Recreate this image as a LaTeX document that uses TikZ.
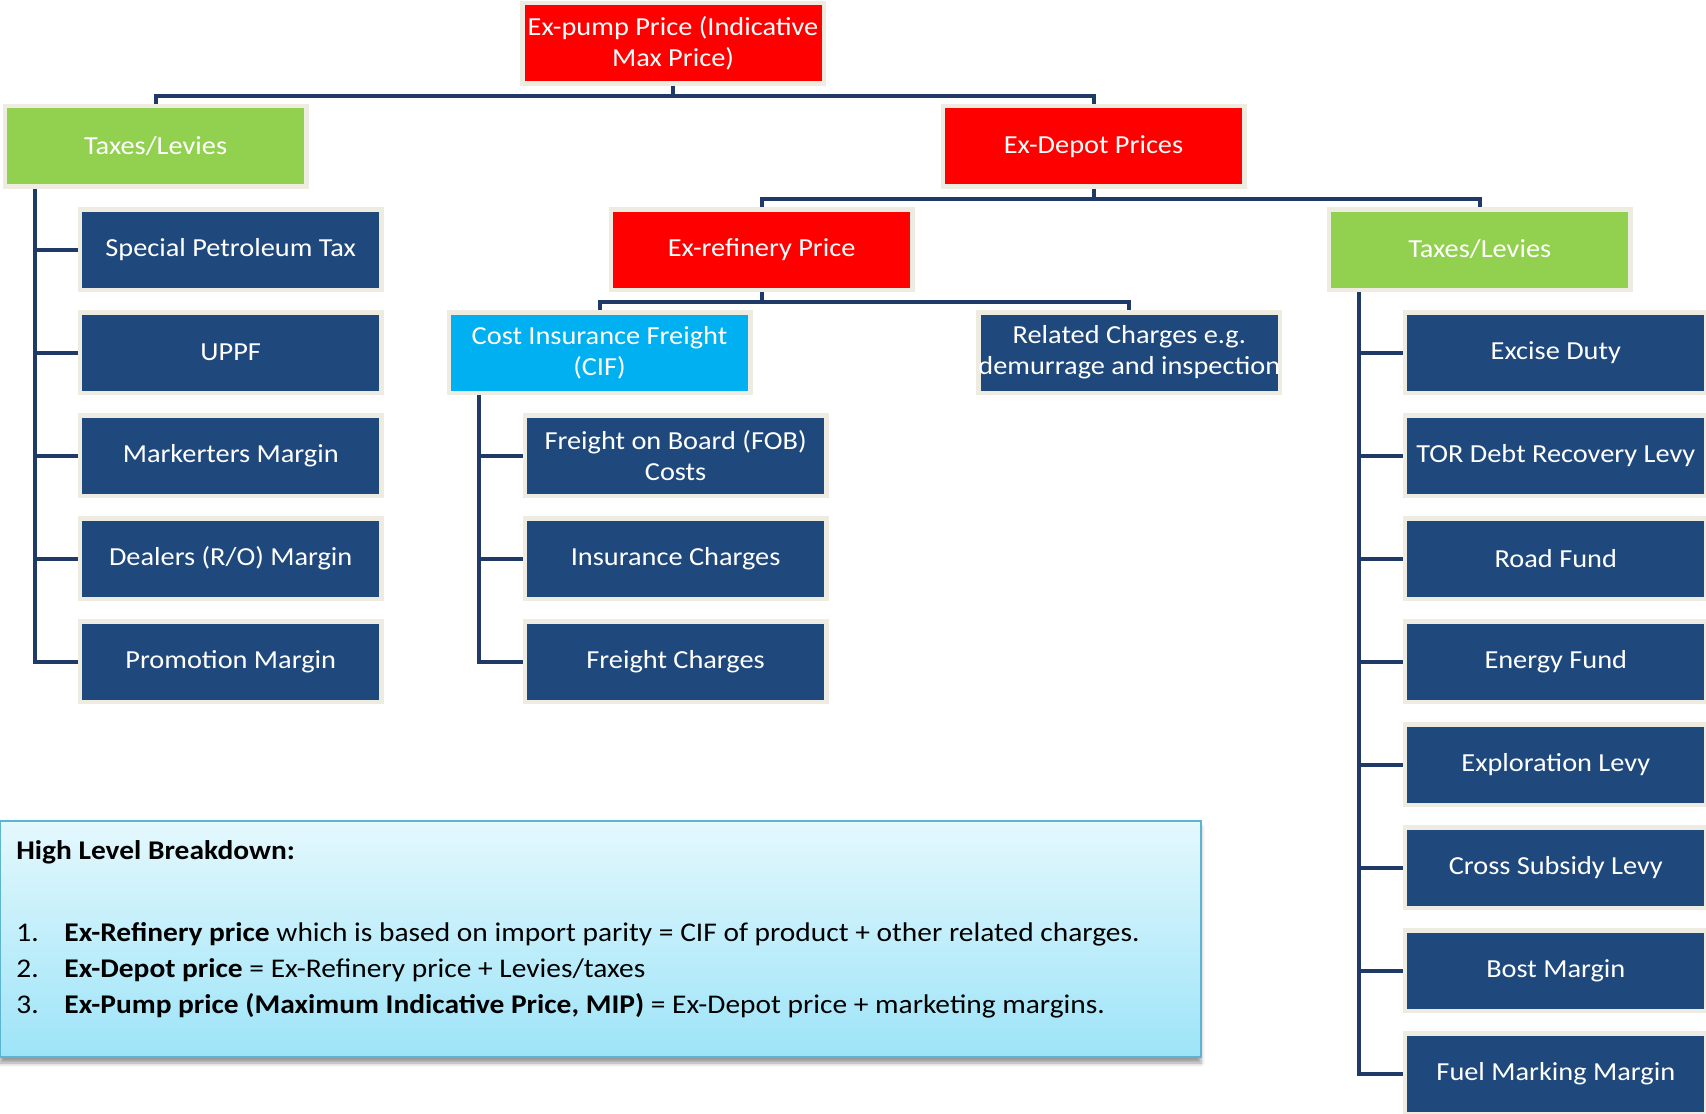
\documentclass[tikz,border=0pt]{standalone}
\usepackage{fontspec}
\setmainfont{Carlito}[FakeStretch=1.09]
\usetikzlibrary{shadows.blur}
\definecolor{pumpred}{HTML}{FF0000}
\definecolor{levygreen}{HTML}{92D050}
\definecolor{itemblue}{HTML}{1F497D}
\definecolor{cifcyan}{HTML}{00B0F0}
\definecolor{rimgrey}{HTML}{EEECE1}
\definecolor{linkblue}{HTML}{1F3A66}
\definecolor{notetop}{HTML}{E4F8FD}
\definecolor{notebot}{HTML}{9DE4F8}
\definecolor{noteedge}{HTML}{5AB4D2}

\begin{document}
\begin{tikzpicture}[x=0.5pt,y=-0.5pt,
		box/.style = {draw=rimgrey, line width=2.25pt, text=white, align=center,
			minimum width=150.75pt, minimum height=40.25pt, inner sep=0pt,
			font=\fontsize{13}{15.5}\selectfont},
		link/.style = {draw=linkblue, line width=2pt},
		note/.style = {anchor=base west, inner sep=0pt, font=\fontsize{13.5}{16}\selectfont}]
		\useasboundingbox (0,0) rectangle (1706,1113);
		% upper levels
		\node [box, fill=pumpred] (pump) at (673,43.4) {Ex-pump Price (Indicative\\Max Price)};
		\node [box, fill=levygreen] (taxL) at (155.6,146.45) {Taxes/Levies};
		\node [box, fill=pumpred] (depot) at (1093.5,146.45) {Ex-Depot Prices};
		\node [box, fill=pumpred] (refinery) at (761.6,249.5) {Ex-refinery Price};
		\node [box, fill=levygreen] (taxR) at (1479.7,249.5) {Taxes/Levies};
		\node [box, fill=cifcyan] (cif) at (599.5,352.55) {Cost Insurance Freight\\(CIF)};
		\node [box, fill=itemblue] (related) at (1129.3,352.55) {Related Charges e.g.\\demurrage and inspection};
		% marketing margins
		\node [box, fill=itemblue] (spt) at (230.7,249.5) {Special Petroleum Tax};
		\node [box, fill=itemblue] (uppf) at (230.7,352.55) {UPPF};
		\node [box, fill=itemblue] (mkt) at (230.7,455.6) {Markerters Margin};
		\node [box, fill=itemblue] (dealer) at (230.7,558.65) {Dealers (R/O) Margin};
		\node [box, fill=itemblue] (promo) at (230.7,661.7) {Promotion Margin};
		% cif parts
		\node [box, fill=itemblue] (fob) at (675.6,455.6) {Freight on Board (FOB)\\Costs};
		\node [box, fill=itemblue] (insur) at (675.6,558.65) {Insurance Charges};
		\node [box, fill=itemblue] (freight) at (675.6,661.7) {Freight Charges};
		% depot levies
		\node [box, fill=itemblue] (excise) at (1555.8,352.55) {Excise Duty};
		\node [box, fill=itemblue] (tor) at (1555.8,455.6) {TOR Debt Recovery Levy};
		\node [box, fill=itemblue] (road) at (1555.8,558.65) {Road Fund};
		\node [box, fill=itemblue] (energy) at (1555.8,661.7) {Energy Fund};
		\node [box, fill=itemblue] (explor) at (1555.8,764.75) {Exploration Levy};
		\node [box, fill=itemblue] (cross) at (1555.8,867.8) {Cross Subsidy Levy};
		\node [box, fill=itemblue] (bost) at (1555.8,970.85) {Bost Margin};
		\node [box, fill=itemblue] (marking) at (1555.8,1073.9) {Fuel Marking Margin};
		% connectors
		\draw [link] (pump.south) -- ++(0,10) -| (taxL.north);
		\draw [link] (pump.south) -- ++(0,10) -| (depot.north);
		\draw [link] (depot.south) -- ++(0,10) -| (refinery.north);
		\draw [link] (depot.south) -- ++(0,10) -| (taxR.north);
		\draw [link] (refinery.south) -- ++(0,10) -| (cif.north);
		\draw [link] (refinery.south) -- ++(0,10) -| (related.north);
		\coordinate (spineL) at (35,189);
		\coordinate (spineC) at (479,395);
		\coordinate (spineR) at (1359,292);
		\draw [link] (spineL) |- (spt.west);
		\draw [link] (spineL) |- (uppf.west);
		\draw [link] (spineL) |- (mkt.west);
		\draw [link] (spineL) |- (dealer.west);
		\draw [link] (spineL) |- (promo.west);
		\draw [link] (spineC) |- (fob.west);
		\draw [link] (spineC) |- (insur.west);
		\draw [link] (spineC) |- (freight.west);
		\draw [link] (spineR) |- (excise.west);
		\draw [link] (spineR) |- (tor.west);
		\draw [link] (spineR) |- (road.west);
		\draw [link] (spineR) |- (energy.west);
		\draw [link] (spineR) |- (explor.west);
		\draw [link] (spineR) |- (cross.west);
		\draw [link] (spineR) |- (bost.west);
		\draw [link] (spineR) |- (marking.west);
		% breakdown note
		\draw [draw=noteedge, line width=1pt, top color=notetop, bottom color=notebot,
			blur shadow={shadow xshift=0pt, shadow yshift=-3pt}] (0,821) rectangle (1201,1057);
		\node [note] (hlTitle) at (16,859) {\textbf{High Level Breakdown:}};
		\node [note] (hlNumA) at (16,941) {1.};
		\node [note] (hlLineA) at (64,941) {\textbf{Ex-Refinery price} which is based on import parity = CIF of product + other related charges.};
		\node [note] (hlNumB) at (16,977) {2.};
		\node [note] (hlLineB) at (64,977) {\textbf{Ex-Depot price} = Ex-Refinery price + Levies/taxes};
		\node [note] (hlNumC) at (16,1013) {3.};
		\node [note] (hlLineC) at (64,1013) {\textbf{Ex-Pump price (Maximum Indicative Price, MIP)} = Ex-Depot price + marketing margins.};
	\end{tikzpicture}
\end{document}
